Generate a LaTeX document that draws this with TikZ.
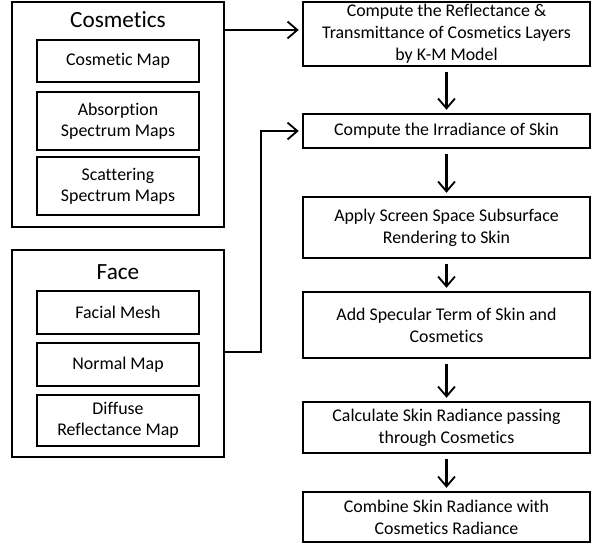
\documentclass[tikz,border=0pt]{standalone}
\usepackage{fontspec}
\setmainfont[Ligatures=NoCommon]{Carlito}
\usetikzlibrary{arrows.meta,positioning}

\begin{document}
\begin{tikzpicture}[
    x=0.025cm, y=-0.025cm,
    group/.style={rectangle, draw, line width=2pt, minimum width=5.3cm},
    title/.style={font=\fontsize{16.5}{19}\selectfont},
    item/.style={rectangle, draw, line width=2pt, minimum width=4.05cm, align=center, inner sep=1pt, font=\fontsize{12.7}{15}\selectfont},
    stage/.style={rectangle, draw, line width=2pt, minimum width=7.175cm, align=center, inner sep=1pt, font=\fontsize{12.7}{15.6}\selectfont},
    line/.style={draw, line width=1.7pt, -{Straight Barb[length=7pt,width=12pt,line width=1.3pt]}, shorten >=2pt}
]
\useasboundingbox (0,0) rectangle (596,545);

% Input groups
\node[group, minimum height=5.625cm] (cosm) at (118,114.5) {};
\node[title] (cosmtitle) at (118,20) {Cosmetics};
\node[item, minimum height=1.05cm] (cosmap) at (118,61) {Cosmetic Map};
\node[item, minimum height=1.45cm] (absorb) at (118,121) {Absorption\\Spectrum Maps};
\node[item, minimum height=1.45cm] (scatter) at (118,186) {Scattering\\Spectrum Maps};

\node[group, minimum height=5.175cm] (face) at (118,353.5) {};
\node[title] (facetitle) at (118,272) {Face};
\node[item, minimum height=1.075cm] (mesh) at (118,312.5) {Facial Mesh};
\node[item, minimum height=1.075cm] (normal) at (118,364.5) {Normal Map};
\node[item, minimum height=1.275cm] (diffuse) at (118,420.5) {Diffuse\\Reflectance Map};

% Pipeline
\node[stage, minimum height=1.6cm] (km) at (446.5,34) {Compute the Reflectance \&\\Transmittance of Cosmetics Layers\\by K-M Model};
\node[stage, minimum height=0.85cm] (irrad) at (446.5,131) {Compute the Irradiance of Skin};
\node[stage, minimum height=1.525cm] (sss) at (446.5,227.5) {Apply Screen Space Subsurface\\Rendering to Skin};
\node[stage, minimum height=1.65cm] (spec) at (446.5,325) {Add Specular Term of Skin and\\Cosmetics};
\node[stage, minimum height=1.275cm] (pass) at (446.5,427.5) {Calculate Skin Radiance passing\\through Cosmetics};
\node[stage, minimum height=1.25cm] (comb) at (446.5,517) {Combine Skin Radiance with\\Cosmetics Radiance};

% Lines
\coordinate (bend) at (261,352);
\draw[line] (cosm.east |- 0,30) -- (km.west |- 0,30);
\draw[line] (face.east |- bend) -- (bend) |- (irrad.west);
\foreach \a/\b in {km/irrad, irrad/sss, sss/spec, spec/pass, pass/comb}
    \draw[line, shorten <=3pt] (\a) -- (\b);

\end{tikzpicture}
\end{document}
